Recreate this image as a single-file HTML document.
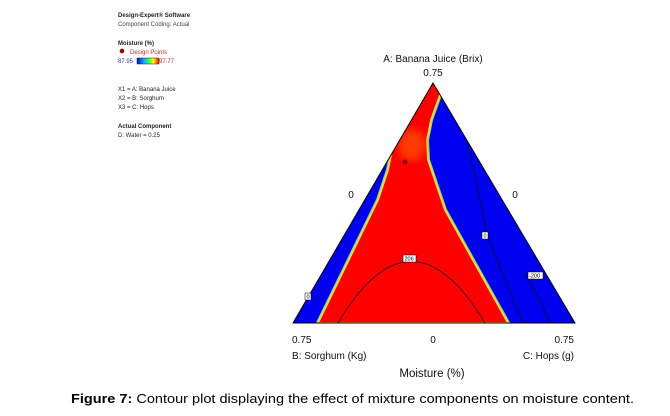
<!DOCTYPE html>
<html><head><meta charset="utf-8"><style>
html,body{margin:0;padding:0;background:#fff;width:670px;height:416px;overflow:hidden}
text{font-family:"Liberation Sans",sans-serif}
</style></head><body>
<svg width="670" height="416" viewBox="0 0 670 416" xmlns="http://www.w3.org/2000/svg">
<defs>
<linearGradient id="cb" x1="0" x2="1"><stop offset="0" stop-color="#0000ff"/><stop offset="0.35" stop-color="#00c0ff"/><stop offset="0.55" stop-color="#40ff40"/><stop offset="0.75" stop-color="#ffff00"/><stop offset="1" stop-color="#ff0000"/></linearGradient>
<clipPath id="tri"><polygon points="433,83 293,323 575,323"/></clipPath>
<filter id="bl"><feGaussianBlur stdDeviation="4"/></filter>
</defs>
<g font-size="6" fill="#222">
<text x="118" y="17" font-weight="bold">Design-Expert® Software</text>
<text x="118" y="26" fill="#444">Component Coding: Actual</text>
<text x="118" y="45" font-weight="bold">Moisture (%)</text>
<circle cx="122" cy="51" r="2.3" fill="#a00000"/>
<text x="130" y="54" fill="#c03030">Design Points</text>
<text x="118" y="63" fill="#3333cc">87.95</text>
<rect x="137" y="58" width="22" height="6" fill="url(#cb)" stroke="#222" stroke-width="0.5"/>
<text x="159" y="63" fill="#cc2222">97.77</text>
<text x="118" y="91">X1 = A: Banana Juice</text>
<text x="118" y="100">X2 = B: Sorghum</text>
<text x="118" y="109">X3 = C: Hops</text>
<text x="118" y="128" font-weight="bold">Actual Component</text>
<text x="118" y="137">D: Water = 0.25</text>
</g>
<g clip-path="url(#tri)">
<rect x="280" y="70" width="310" height="260" fill="#0000f0"/>
<polygon points="433,80 441,92 431,120 427,140 428,160 445,210 508,323 318,323 378,200 388,170 392,150 380,140" fill="#00c0c0" stroke="#60e0c0" stroke-width="4"/>
<polygon points="433,80 441,92 431,120 427,140 428,160 445,210 508,323 318,323 378,200 388,170 392,150 380,140" fill="#ff0000" stroke="#ffe000" stroke-width="1.8"/>
<ellipse cx="412" cy="145" rx="14" ry="16" fill="#ff6a00" filter="url(#bl)" opacity="0.55"/>
<path d="M338,323 Q411,200 485,323" fill="none" stroke="#111" stroke-width="0.8"/>
<path d="M465,130 Q480,200 487,235 Q505,280 523,323" fill="none" stroke="#111" stroke-width="0.8"/>
<path d="M525,273 Q540,300 550,323" fill="none" stroke="#111" stroke-width="0.8"/>
<path d="M295,320 Q300,312 306,300" fill="none" stroke="#111" stroke-width="0.8"/>
</g>
<polygon points="433,83 293,323 575,323" fill="none" stroke="#000" stroke-width="1"/>
<circle cx="405" cy="162" r="2.5" fill="#900000"/>
<g font-size="5.5" fill="#000">
<rect x="403" y="255" width="13" height="7" fill="#fff" stroke="#000" stroke-width="0.5"/><text x="404.5" y="260.5">206</text>
<rect x="482" y="232" width="6" height="7" fill="#fff" stroke="#000" stroke-width="0.5"/><text x="483.5" y="237.5">0</text>
<rect x="528" y="272" width="15" height="7" fill="#fff" stroke="#000" stroke-width="0.5"/><text x="529" y="277.5">-200</text>
<rect x="305" y="293" width="6" height="7" fill="#fff" stroke="#000" stroke-width="0.5"/><text x="306.5" y="298.5">0</text>
</g>
<g font-size="10" fill="#111">
<text x="433" y="62" text-anchor="middle">A: Banana Juice (Brix)</text>
<text x="433" y="76" text-anchor="middle">0.75</text>
<text x="351" y="198" text-anchor="middle">0</text>
<text x="515" y="198" text-anchor="middle">0</text>
<text x="292" y="343">0.75</text>
<text x="433" y="343" text-anchor="middle">0</text>
<text x="574" y="343" text-anchor="end">0.75</text>
<text x="292" y="359">B: Sorghum (Kg)</text>
<text x="574" y="359" text-anchor="end">C: Hops (g)</text>
<text x="432" y="377" font-size="11.5" text-anchor="middle">Moisture (%)</text>
</g>
<text x="71" y="403" font-size="13" fill="#000" textLength="563" lengthAdjust="spacingAndGlyphs"><tspan font-weight="bold">Figure 7:</tspan> Contour plot displaying the effect of mixture components on moisture content.</text>
</svg>
</body></html>
